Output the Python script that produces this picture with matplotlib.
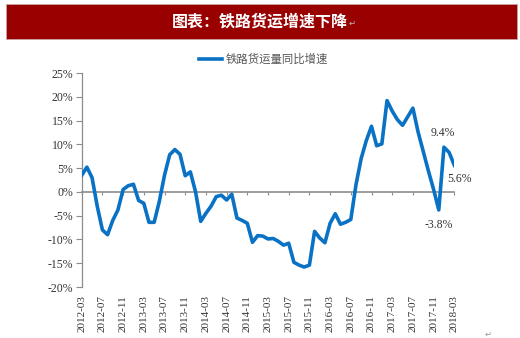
import matplotlib
matplotlib.use("Agg")
import matplotlib.pyplot as plt
from matplotlib.patches import Rectangle
import pandas as pd

# Monthly year-on-year growth of railway freight volume, 2012-03 .. 2018-03 (%)
start_month = "2012-03"
end_month = "2018-03"
growth = [
    3.5, 5.2, 3.0, -3.0, -8.0, -9.0, -6.0, -3.8, 0.5, 1.3,      # 2012-03 .. 2012-12
    1.6, -1.8, -2.4, -6.4, -6.4, -2.0, 3.5, 7.8, 8.9, 7.9,      # 2013-01 .. 2013-10
    3.4, 4.2, 0.0, -6.2, -4.5, -3.0, -1.0, -0.7, -1.7, -0.5,    # 2013-11 .. 2014-08
    -5.5, -6.0, -6.6, -10.6, -9.2, -9.3, -9.9, -9.8, -10.4, -11.2,  # 2014-09 .. 2015-06
    -10.8, -14.8, -15.4, -15.8, -15.4, -8.3, -9.7, -10.7, -6.6, -4.6,  # 2015-07 .. 2016-04
    -6.8, -6.4, -5.8, 1.5, 7.0, 10.8, 13.8, 9.7, 10.1, 19.2,    # 2016-05 .. 2017-02
    17.0, 15.2, 14.0, 15.8, 17.6, 12.6, 8.5, 4.4, 0.5, -3.8,    # 2017-03 .. 2017-12
    9.4, 8.3, 5.6,                                              # 2018-01 .. 2018-03
]
series_label = "铁路货运量同比增速"
title_text = "图表：铁路货运增速下降"
y_ticks = [-20, -15, -10, -5, 0, 5, 10, 15, 20, 25]
label_step = 4
highlight_months = ["2017-12", "2018-01", "2018-03"]

months = [str(p) for p in pd.period_range(start_month, end_month, freq="M")]
xpos = list(range(len(months)))

W, H = 520, 338
fig = plt.figure(figsize=(W / 100, H / 100), dpi=100)
fig.patch.set_facecolor("white")

cjk = ["Noto Sans CJK SC", "DejaVu Sans"]
serif = ["Liberation Serif", "DejaVu Serif"]
text_grey = "#333333"
axis_grey = "#8c8c8c"
blue = "#0A72C4"

# Title banner
fig.patches.append(Rectangle((6 / W, 1 - 38.5 / H), 511 / W, 35 / H,
                             transform=fig.transFigure, facecolor="#990000",
                             edgecolor="#c9a0a0", linewidth=0.6, zorder=0))
fig.text(260 / W, 1 - 21 / H, title_text, color="white", fontsize=11.5,
         fontweight="bold", family=cjk, ha="center", va="center")
fig.text(352 / W, 1 - 23 / H, "↵", color="#bbbbbb", fontsize=6,
         family=["DejaVu Sans"], ha="center", va="center")
fig.text(488 / W, 1 - 334 / H, "↵", color="#999999", fontsize=6,
         family=["DejaVu Sans"], ha="center", va="center")

ax = fig.add_axes([81.7 / W, 1 - 287 / H, 372.6 / W, 214 / H])
line, = ax.plot(xpos, growth, color=blue, linewidth=2.6, solid_joinstyle="round",
                label=series_label, zorder=3)

ax.set_xlim(0, len(months) - 1)
ax.set_ylim(y_ticks[0], y_ticks[-1])
ax.set_yticks(y_ticks)
ax.set_yticklabels([f"{v}%" for v in y_ticks], family=serif, fontsize=8.5,
                   color=text_grey)
ax.tick_params(axis="y", direction="out", length=4, width=0.8, color=axis_grey,
               pad=2)

for side in ("top", "right", "bottom"):
    ax.spines[side].set_visible(False)
ax.spines["left"].set_color(axis_grey)
ax.spines["left"].set_linewidth(0.9)

tick_idx = xpos[::label_step]
ax.set_xticks(tick_idx)
ax.set_xticklabels([months[i] for i in tick_idx], rotation=90, family=serif,
                   fontsize=8, color=text_grey)
ax.tick_params(axis="x", length=0, pad=6)

# Category axis drawn along the zero line
zero_frac = (0 - y_ticks[0]) / (y_ticks[-1] - y_ticks[0])
zax = ax.secondary_xaxis(zero_frac)
zax.set_xticks(tick_idx)
zax.set_xticklabels([])
zax.tick_params(axis="x", direction="out", length=2.5, width=0.8, color=axis_grey)
zax.spines["bottom"].set_color(axis_grey)
zax.spines["bottom"].set_linewidth(1.2)

# Value labels on the latest points
offsets = {"2017-12": (0, -11), "2018-01": (-0.5, 10), "2018-03": (3.5, -10)}
for m in highlight_months:
    i = months.index(m)
    ax.annotate(f"{growth[i]:.1f}%", (i, growth[i]), xytext=offsets[m],
                textcoords="offset points", ha="center", va="center",
                family=serif, fontsize=8.5, color=text_grey,
                annotation_clip=False)

leg = ax.legend(handles=[line], loc="center", bbox_to_anchor=(263.5 / W, 1 - 59.5 / H),
                bbox_transform=fig.transFigure, frameon=False, handlelength=2.0,
                handletextpad=0.35, prop={"family": cjk, "size": 8.2})
for t in leg.get_texts():
    t.set_color("#555555")

fig.savefig("out.png", dpi=100, facecolor="white")
